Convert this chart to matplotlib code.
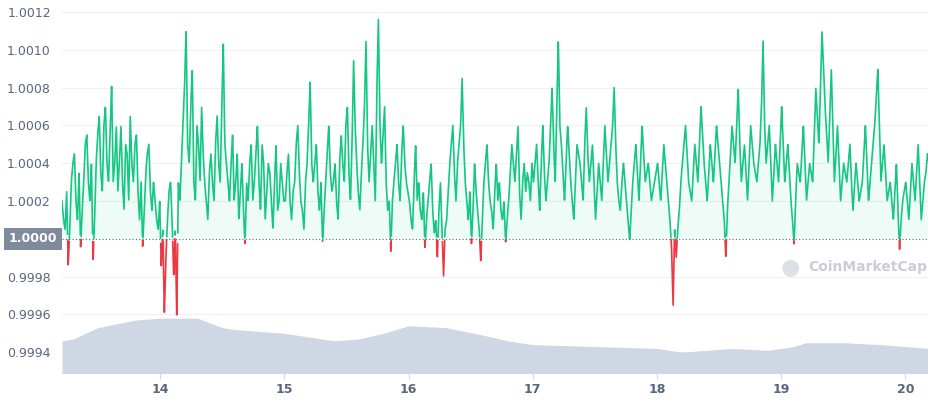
import numpy as np
import matplotlib
matplotlib.use("Agg")
import matplotlib.pyplot as plt

# price deviation from 1.0 in units of 1e-4 (main samples)
p13 = [2,0.5,-1.4,3,4.5,1,-0.5,3,5.5,2,-1.2,4,6.5,2.5,7,3,8.2,4,2.5,6,1.5,4.5,6.5,3,5.5,1,-0.4,3.5,5,1.5,2,0.5]
p14 = [-1.5,-4,1,3,-2,-4.2,2,6,11.1,4,9,2,5,7,3,1,4.5,2,6.5,3,10.3,4,2,5.5,3,1,4,-0.3,2,5,3,6,1.5,4,2.5,3.5,0.5,5,2,3]
p15 = [2,4.5,1,3,6,2,0.5,4,8.3,3,5,1.5,-0.2,3,6,2.5,4,1,5.5,3,7,2,9.5,4,1.5,5,10.5,3,6,2,11.6,4,7,1.5,-0.7,3,5,2,6,3]
p16 = [2,0.5,5,3,1,-0.5,2,4,0.3,-1,3,-2,1,4,6,2,5,8.5,3,1,-0.3,4,1.5,-1.2,3,5,2,0.5,4,3,1,-0.2,2,5,3,6,1,4,3.5,2]
p17 = [3,5,1.5,6,2,4,8,3,10.5,5,2,6,3,1,5,4,2,7,3,5,1,4,2,6,3,5,8,3,1.5,4,2,-0.1,3,5,2,6,3,4,2,3]
p18 = [4,2,5,3,1,-3.6,-1,1.5,4,6,3,2,5,3,7,4,2,5,3,6,4,2,-1,3,6,4,8,3,5,2,6,4,3,5,10.5,4,6,2,5,3]
p19 = [7,3,5,2,-0.3,4,3,6,2,4,3,8,5,11,7,4,9,3,6,2,4,3,5,1.5,4,2,3,6,2,4,6,9,3,5,2,3,1,4,-0.6,2]
p20 = [3,1,4,2,5,1,3,4.5]
# in-between samples
q13 = [1,2.5,0.5,4,2,3.5,1.5,5,3,4,1,5.5,3.5,6,4,5.5,3,6,4,3,5,2,4,5,2.5,3,1.5,4.5,2.5,3,1,2]
q14 = [0.5,-1,2.5,1,0.5,3,4,8,5,7,3,6,3,4.5,2,3.5,3,5,4,7,5,3,4,2,4.5,2.5,1.5,3,4,2,4.5,3,5,1,4,2,3,1.5,4,2]
q15 = [3.5,2,2.5,5,3.5,1.5,3,6,4,4,2.5,3,1.5,4.5,3.5,3,2,4,4,6,3.5,5,6,2.5,3.5,7,5,4.5,4,8,6,5.5,3,2,2,4,3,4.5,4,2.5]
q16 = [1,3,2,1.5,2.5,1,3,1.5,1,1.5,0.5,0.5,2.5,5,3.5,4,6,5,2,2.5,1.5,2.5,0.5,1,4,3,1.5,2.5,2,1.5,2,1,3.5,4,4.5,2.5,3,2.5,3,4]
q17 = [4,3,4,3.5,3,6,5,7,6,3.5,4,4.5,2,3,4.5,3,5,4.5,4,3,2.5,3,4,4.5,4,6,5,2,3,3,1,1.5,4,3.5,4,4.5,3.5,3,2.5,3.5]
q18 = [3,3.5,4,2,-0.5,0.5,0.5,3,5,4.5,2.5,3.5,4,5,5.5,3,3.5,4,4.5,5,3,1,1.5,4.5,5,6,5,4,3.5,4,5,3.5,4,7,6,5,4,3.5,4,5]
q19 = [5,4,3.5,1,2,3.5,4.5,4,3,3.5,5.5,6.5,8,9,5.5,6.5,6,4.5,4,3,3.5,4,3,3,3,2.5,4.5,4,3,5,7.5,6,4,3.5,2.5,2,2.5,1.5,1,2.5]
q20 = [2,2.5,3,3.5,3,2,3.5,4]

vol_days = [13.21,13.3,13.5,13.8,14.0,14.3,14.5,14.6,15.0,15.2,15.4,15.6,15.8,16.0,16.3,16.6,16.8,17.0,17.5,18.0,18.2,18.6,18.9,19.1,19.2,19.5,19.8,20.19]
vol_lvls = [0.99946,0.99947,0.99953,0.99957,0.99958,0.99958,0.99953,0.99952,0.99950,0.99948,0.99946,0.99947,0.99950,0.99954,0.99953,0.99949,0.99946,0.99944,0.99943,0.99942,0.99940,0.99942,0.99941,0.99943,0.99945,0.99945,0.99944,0.99942]

xticks = [14,15,16,17,18,19,20]
yticks = [0.9994,0.9996,0.9998,1.0002,1.0004,1.0006,1.0008,1.0010,1.0012]

p = np.array(p13+p14+p15+p16+p17+p18+p19+p20)
q = np.array(q13+q14+q15+q16+q17+q18+q19+q20)
dev = np.empty(2*len(p)); dev[0::2] = p; dev[1::2] = q
dev *= 1e-4
x = np.linspace(13.21, 20.19, len(dev))
xd = np.linspace(13.21, 20.19, len(dev)*12)
yd = np.interp(xd, x, dev) + 1.0

GREEN, RED = "#16c784", "#ea3943"
ymin, ymax = 0.99929, 1.001263

fig = plt.figure(figsize=(9.29,4.0), dpi=100)
ax = fig.add_axes([62/929, 27/400, 867/929, 373/400])
ax.set_xlim(13.21, 20.19)
ax.set_ylim(ymin, ymax)

ax.fill_between(vol_days, ymin, vol_lvls, color="#cfd6e4", lw=0, zorder=1)
ax.fill_between(xd, 1.0, yd, where=yd>=1.0, color=GREEN, alpha=0.07, lw=0, zorder=2, interpolate=True)
ax.fill_between(xd, 1.0, yd, where=yd<1.0, color=RED, alpha=0.12, lw=0, zorder=2, interpolate=True)
ax.plot(xd, np.where(yd>=1.0, yd, np.nan), color=GREEN, lw=1.2, zorder=3)
ax.plot(xd, np.where(yd<=1.0, yd, np.nan), color=RED, lw=1.2, zorder=3)
ax.axhline(1.0, color="#58667e", lw=0.8, ls=(0,(1,2)), zorder=4)

for s in ["top","right","left"]:
    ax.spines[s].set_visible(False)
ax.spines["bottom"].set_color("#cfd6e4")
ax.set_xticks(xticks)
ax.set_xticklabels([str(t) for t in xticks], color="#58667e", fontsize=9, fontweight="bold")
ax.set_yticks(yticks)
ax.set_yticklabels([f"{t:.4f}" for t in yticks], color="#58667e", fontsize=9)
ax.tick_params(axis="y", length=0, pad=8)
ax.tick_params(axis="x", length=4, color="#cfd6e4")
ax.grid(axis="y", color="#eff2f5", lw=0.8)
ax.set_axisbelow(True)

fig.text(33/929, 1-239/400, "1.0000", ha="center", va="center", color="white", fontsize=9, fontweight="bold",
         bbox=dict(boxstyle="square,pad=0.35", fc="#808a9d", ec="none"))
fig.text(808/929, 1-267/400, "CoinMarketCap", ha="left", va="center", color="#c9ced6", fontsize=10, fontweight="bold")
fig.text(790/929, 1-267/400, "\u25cf", ha="center", va="center", color="#dde1e7", fontsize=16)

fig.savefig("out.png", dpi=100)
